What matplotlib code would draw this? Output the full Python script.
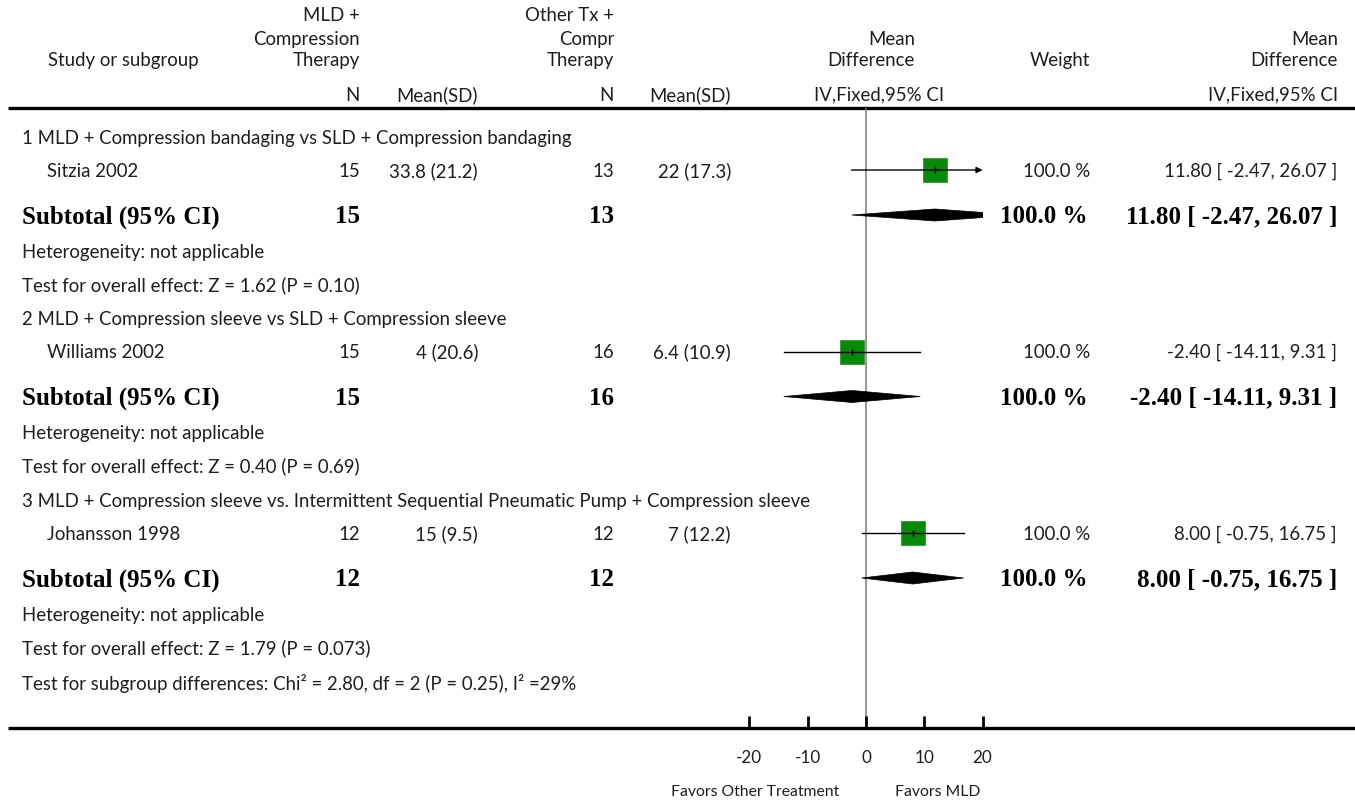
import matplotlib
matplotlib.use("Agg")
import matplotlib.pyplot as plt
from matplotlib.patches import Polygon

# ---- data -------------------------------------------------------------
group_titles = [
    "1 MLD + Compression bandaging vs SLD + Compression bandaging",
    "2 MLD + Compression sleeve vs SLD + Compression sleeve",
    "3 MLD + Compression sleeve vs. Intermittent Sequential Pneumatic Pump + Compression sleeve",
]
studies = ["Sitzia 2002", "Williams 2002", "Johansson 1998"]
n_mld = [15, 15, 12]
mean_mld = [33.8, 4, 15]
sd_mld = [21.2, 20.6, 9.5]
n_other = [13, 16, 12]
mean_other = [22, 6.4, 7]
sd_other = [17.3, 10.9, 12.2]
md = [11.80, -2.40, 8.00]
ci_low = [-2.47, -14.11, -0.75]
ci_high = [26.07, 9.31, 16.75]
weights = [100.0, 100.0, 100.0]
z_values = ["1.62", "0.40", "1.79"]
p_values = ["0.10", "0.69", "0.073"]
subgroup_chi2 = "2.80"
subgroup_df = 2
subgroup_p = "0.25"
subgroup_i2 = 29
axis_ticks = [-20, -10, 0, 10, 20]
axis_limits = (-20, 20)
favours_left = "Favors Other Treatment"
favours_right = "Favors MLD"

# ---- figure in pixel layout ------------------------------------------
W, H = 1355, 800
fig = plt.figure(figsize=(W / 100, H / 100), dpi=100)
ax = fig.add_axes([0, 0, 1, 1])
ax.set_xlim(0, W)
ax.set_ylim(H, 0)
ax.axis("off")

SANS = ["Lato", "DejaVu Sans"]
SERIF = ["Liberation Serif", "DejaVu Serif"]
TXT = "#1e1e1e"
FS = 13.4
FSB = 18.0
FS_AXIS = 11.3
FS_TICK = 12.3


def txt(x, y, s, ha="left", bold=False, size=None, color=TXT):
    """Place text so that its cap height is centred on y (pixels)."""
    if bold:
        size = size or FSB
        off = 0.33 * size * 100 / 72
        ax.text(x, y + off, s, ha=ha, va="baseline", fontsize=size,
                family=SERIF, fontweight="bold", color="black")
    else:
        size = size or FS
        off = 0.36 * size * 100 / 72
        ax.text(x, y + off, s, ha=ha, va="baseline", fontsize=size,
                family=SANS, color=color)


# header
txt(48, 59, "Study or subgroup")
for y, s in zip([14, 38, 59], ["MLD +", "Compression", "Therapy"]):
    txt(360, y, s, ha="right")
for y, s in zip([14, 38, 59], ["Other Tx +", "Compr", "Therapy"]):
    txt(614, y, s, ha="right")
for y, s in zip([38, 59], ["Mean", "Difference"]):
    txt(915, y, s, ha="right")
    txt(1338, y, s, ha="right")
txt(1090, 59, "Weight", ha="right")
txt(360, 94, "N", ha="right")
txt(478, 94, "Mean(SD)", ha="right")
txt(614, 94, "N", ha="right")
txt(731, 94, "Mean(SD)", ha="right")
txt(944, 94, "IV,Fixed,95% CI", ha="right")
txt(1338, 94, "IV,Fixed,95% CI", ha="right")

TOP, BOTTOM = 108, 728
ax.plot([8, W], [TOP, TOP], color="black", lw=2.4, solid_capstyle="butt")
ax.plot([8, W], [BOTTOM, BOTTOM], color="black", lw=2.4, solid_capstyle="butt")

# forest panel, x in mean-difference units, y shares the pixel rows
px_per_unit = 5.83
zero_px = 866
x0 = zero_px + axis_limits[0] * px_per_unit
x1 = zero_px + axis_limits[1] * px_per_unit
fax = fig.add_axes([x0 / W, (H - BOTTOM) / H, (x1 - x0) / W, (BOTTOM - TOP) / H])
fax.set_xlim(*axis_limits)
fax.set_ylim(BOTTOM, TOP)
fax.patch.set_alpha(0)
for sp in fax.spines.values():
    sp.set_visible(False)
fax.set_yticks([])
fax.set_xticks(axis_ticks)
fax.set_xticklabels([str(t) for t in axis_ticks], family=SANS, fontsize=FS_TICK, color=TXT)
fax.tick_params(axis="x", direction="in", length=9, width=2, color="black", pad=16)
fax.axvline(0, color="#7a7a7a", lw=1.1, zorder=1)

txt(755, 790, favours_left, ha="center", size=FS_AXIS)
txt(938, 790, favours_right, ha="center", size=FS_AXIS)

row_offsets = [0, 33, 78, 114, 147]
group_step = 181.5
first_row = 137
half_h = 6

for g in range(len(studies)):
    base = first_row + g * group_step
    y_title, y_study, y_sub, y_het, y_test = [base + o for o in row_offsets]

    txt(22, y_title, group_titles[g])
    txt(47, y_study, studies[g])
    txt(360, y_study, str(n_mld[g]), ha="right")
    txt(478, y_study, f"{mean_mld[g]:g} ({sd_mld[g]:g})", ha="right")
    txt(614, y_study, str(n_other[g]), ha="right")
    txt(731, y_study, f"{mean_other[g]:g} ({sd_other[g]:g})", ha="right")
    ci_text = f"{md[g]:.2f} [ {ci_low[g]:.2f}, {ci_high[g]:.2f} ]"
    txt(1090, y_study, f"{weights[g]:.1f} %", ha="right")
    txt(1337, y_study, ci_text, ha="right")

    txt(22, y_sub, "Subtotal (95% CI)", bold=True)
    txt(360, y_sub, str(n_mld[g]), ha="right", bold=True)
    txt(614, y_sub, str(n_other[g]), ha="right", bold=True)
    txt(1088, y_sub, f"{weights[g]:.1f} %", ha="right", bold=True)
    txt(1337, y_sub, ci_text, ha="right", bold=True)

    txt(22, y_het, "Heterogeneity: not applicable")
    txt(22, y_test, f"Test for overall effect: Z = {z_values[g]} (P = {p_values[g]})")

    # study: square, CI line (with arrow when it runs off the scale)
    fax.plot(md[g], y_study, marker="s", ms=17, mfc="#078a07", mec="#2e9a2e",
             mew=0.6, zorder=2, ls="none")
    lo = max(ci_low[g], axis_limits[0])
    hi = min(ci_high[g], axis_limits[1])
    if ci_high[g] > axis_limits[1]:
        fax.annotate("", xy=(hi, y_study), xytext=(lo, y_study),
                     arrowprops=dict(arrowstyle="-|>", color="black", lw=1.0,
                                     mutation_scale=9, shrinkA=0, shrinkB=0),
                     zorder=3, annotation_clip=False)
    else:
        fax.plot([lo, hi], [y_study, y_study], color="black", lw=1.0, zorder=3)
    fax.plot(md[g], y_study, marker="|", ms=5, color="black", mew=1.0, zorder=4)

    # subtotal diamond
    diamond = Polygon([(ci_low[g], y_sub), (md[g], y_sub - half_h),
                       (ci_high[g], y_sub), (md[g], y_sub + half_h)],
                      closed=True, facecolor="black", edgecolor="black", lw=0.5,
                      zorder=3)
    fax.add_patch(diamond)

txt(22, 683, f"Test for subgroup differences: Chi\u00b2 = {subgroup_chi2}, df = {subgroup_df} "
             f"(P = {subgroup_p}), I\u00b2 ={subgroup_i2}%")

fig.savefig("out.png", dpi=100, facecolor="white")
